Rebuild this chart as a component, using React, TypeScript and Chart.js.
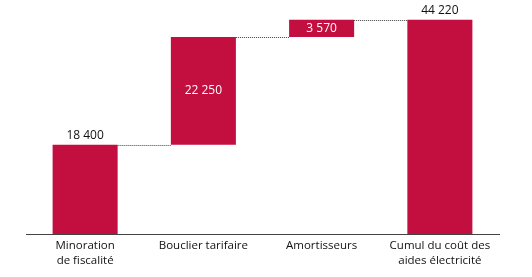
import React, { useEffect, useRef } from "react";
import { Chart, registerables } from "chart.js";

Chart.register(...registerables);

const categories: (string | string[])[] = [
  ["Minoration", "de fiscalité"],
  "Bouclier tarifaire",
  "Amortisseurs",
  ["Cumul du coût des", "aides électricité"],
];
const steps = [18400, 22250, 3570];
const total = 44220;
const valueLabels = ["18 400", "22 250", "3 570", "44 220"];
const labelInside = [false, true, true, false];

const BAR_COLOR = "#C20F3F";
const FONT = "'Open Sans', 'Noto Sans', sans-serif";

export default function App() {
  const ref = useRef<HTMLCanvasElement | null>(null);
  useEffect(() => {
    if (!ref.current) return;
    const ranges: [number, number][] = [];
    let acc = 0;
    for (const s of steps) {
      ranges.push([acc, acc + s]);
      acc += s;
    }
    ranges.push([0, total]);

    const overlay = {
      id: "overlay",
      afterDatasetsDraw(chart: any) {
        const ctx = chart.ctx;
        const meta = chart.getDatasetMeta(0);
        const y = chart.scales.y;
        ctx.save();
        ctx.strokeStyle = "#444";
        ctx.lineWidth = 1;
        ctx.setLineDash([1, 1]);
        for (let i = 0; i < meta.data.length - 1; i++) {
          const a = meta.data[i];
          const b = meta.data[i + 1];
          const level = ranges[i][1];
          const py = Math.round(y.getPixelForValue(level)) + 0.5;
          ctx.beginPath();
          ctx.moveTo(a.x + a.width / 2, py);
          ctx.lineTo(b.x - b.width / 2, py);
          ctx.stroke();
        }
        ctx.setLineDash([]);
        ctx.font = `12px ${FONT}`;
        ctx.textAlign = "center";
        ctx.textBaseline = "middle";
        meta.data.forEach((el: any, i: number) => {
          const top = y.getPixelForValue(ranges[i][1]);
          const bot = y.getPixelForValue(ranges[i][0]);
          if (labelInside[i]) {
            ctx.fillStyle = "#ffffff";
            ctx.fillText(valueLabels[i], el.x, (top + bot) / 2);
          } else {
            ctx.fillStyle = "#111111";
            ctx.fillText(valueLabels[i], el.x, top - 9);
          }
        });
        ctx.restore();
      },
    };

    const chart = new Chart(ref.current, {
      type: "bar",
      data: {
        labels: categories,
        datasets: [
          {
            data: ranges as any,
            backgroundColor: BAR_COLOR,
            borderWidth: 0,
            barPercentage: 0.55,
            categoryPercentage: 1,
          },
        ],
      },
      options: {
        animation: false,
        responsive: true,
        maintainAspectRatio: false,
        layout: { padding: { left: 26, right: 33, top: 11, bottom: 0 } },
        plugins: {
          legend: { display: false },
          tooltip: { enabled: false },
        },
        scales: {
          x: {
            grid: { display: false, drawTicks: false },
            border: { display: true, color: "#444", width: 1 },
            ticks: {
              color: "#111",
              font: { family: FONT, size: 11.5, lineHeight: 1.25 },
              padding: 5,
              maxRotation: 0,
              autoSkip: false,
            },
            afterFit: (scale: any) => {
              scale.height = 43;
            },
          },
          y: {
            display: false,
            min: 0,
            max: 46000,
          },
        },
      },
      plugins: [overlay],
    });
    return () => chart.destroy();
  }, []);
  return (
    <div style={{ position: "fixed", left: 0, top: 0, width: 532, height: 277 }}>
      <canvas ref={ref} />
    </div>
  );
}
